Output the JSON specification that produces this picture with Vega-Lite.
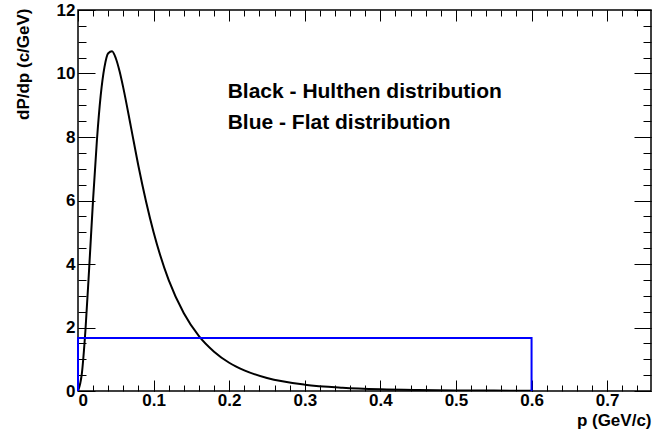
{
  "$schema": "https://vega.github.io/schema/vega-lite/v6.json",
  "width": 573,
  "height": 381,
  "autosize": "none",
  "padding": {"left": 78, "top": 10, "right": 2, "bottom": 40},
  "background": "white",
  "config": {
    "view": {"stroke": "black", "strokeWidth": 1.5},
    "font": "Liberation Sans",
    "axis": {"domain": false, "grid": false, "tickColor": "black", "tickWidth": 1, "labelFont": "Liberation Sans", "labelFontWeight": "bold", "labelFontSize": 17, "labelColor": "black", "titleFont": "Liberation Sans", "titleFontWeight": "bold", "titleFontSize": 17, "titleColor": "black"}
  },
  "datasets": {
    "hul": [
      {"p": 0, "v": 0}, {"p": 0.005, "v": 0.53}, {"p": 0.01, "v": 1.97}, {"p": 0.015, "v": 3.96},
      {"p": 0.02, "v": 6.05}, {"p": 0.025, "v": 7.89}, {"p": 0.03, "v": 9.30}, {"p": 0.035, "v": 10.2},
      {"p": 0.04, "v": 10.64}, {"p": 0.045, "v": 10.70}, {"p": 0.05, "v": 10.48}, {"p": 0.055, "v": 10.07},
      {"p": 0.06, "v": 9.54}, {"p": 0.07, "v": 8.32}, {"p": 0.08, "v": 7.08}, {"p": 0.09, "v": 5.97},
      {"p": 0.10, "v": 5.00}, {"p": 0.12, "v": 3.49}, {"p": 0.14, "v": 2.45}, {"p": 0.16, "v": 1.73},
      {"p": 0.18, "v": 1.24}, {"p": 0.20, "v": 0.89}, {"p": 0.22, "v": 0.65}, {"p": 0.25, "v": 0.41},
      {"p": 0.30, "v": 0.20}, {"p": 0.35, "v": 0.105}, {"p": 0.40, "v": 0.057}, {"p": 0.45, "v": 0.033},
      {"p": 0.50, "v": 0.019}, {"p": 0.55, "v": 0.012}, {"p": 0.60, "v": 0.007}
    ],
    "flat": [
      {"p": 0, "v": 0, "o": 0}, {"p": 0, "v": 1.667, "o": 1}, {"p": 0.6, "v": 1.667, "o": 2}, {"p": 0.6, "v": 0, "o": 3}
    ],
    "labels": [
      {"p": 0.198, "v": 9.23, "t": "Black - Hulthen distribution"},
      {"p": 0.198, "v": 8.25, "t": "Blue - Flat distribution"}
    ]
  },
  "resolve": {"axis": {"x": "independent", "y": "independent"}},
  "layer": [
    {
      "data": {"name": "hul"},
      "mark": {"type": "line", "color": "black", "strokeWidth": 2, "interpolate": "monotone", "clip": true},
      "encoding": {
        "x": {"field": "p", "type": "quantitative", "scale": {"domain": [0, 0.758], "nice": false, "zero": false},
          "axis": {"orient": "bottom", "values": [0, 0.1, 0.2, 0.3, 0.4, 0.5, 0.6, 0.7], "format": ".1~f", "tickSize": -11, "labelPadding": 12,
            "title": "p (GeV/c)", "titleAnchor": "end", "titleAlign": "right", "titleX": 573, "titleY": 34, "titleBaseline": "alphabetic"}},
        "y": {"field": "v", "type": "quantitative", "scale": {"domain": [0, 12], "nice": false, "zero": false},
          "axis": {"orient": "left", "values": [0, 2, 4, 6, 8, 10, 12], "format": "d", "tickSize": -17, "labelPadding": 20,
            "title": "dP/dp (c/GeV)", "titleAngle": -90, "titleAlign": "right", "titleBaseline": "alphabetic", "titleX": -50, "titleY": -2}}
      }
    },
    {
      "data": {"name": "flat"},
      "mark": {"type": "line", "color": "#0000ff", "strokeWidth": 2},
      "encoding": {
        "x": {"field": "p", "type": "quantitative",
          "axis": {"orient": "bottom", "values": [0, 0.02, 0.04, 0.06, 0.08, 0.1, 0.12, 0.14, 0.16, 0.18, 0.2, 0.22, 0.24, 0.26, 0.28, 0.3, 0.32, 0.34, 0.36, 0.38, 0.4, 0.42, 0.44, 0.46, 0.48, 0.5, 0.52, 0.54, 0.56, 0.58, 0.6, 0.62, 0.64, 0.66, 0.68, 0.7, 0.72, 0.74], "tickSize": -6, "labels": false, "title": null}},
        "y": {"field": "v", "type": "quantitative",
          "axis": {"orient": "left", "values": [0, 0.5, 1, 1.5, 2, 2.5, 3, 3.5, 4, 4.5, 5, 5.5, 6, 6.5, 7, 7.5, 8, 8.5, 9, 9.5, 10, 10.5, 11, 11.5, 12], "tickSize": -8, "labels": false, "title": null}},
        "order": {"field": "o", "type": "quantitative"}
      }
    },
    {
      "data": {"name": "labels"},
      "mark": {"type": "text", "align": "left", "baseline": "alphabetic", "font": "Liberation Sans", "fontWeight": "bold", "fontSize": 21, "color": "black"},
      "encoding": {
        "x": {"field": "p", "type": "quantitative",
          "axis": {"orient": "top", "values": [0, 0.1, 0.2, 0.3, 0.4, 0.5, 0.6, 0.7], "tickSize": -11, "labels": false, "title": null}},
        "y": {"field": "v", "type": "quantitative",
          "axis": {"orient": "right", "values": [0, 2, 4, 6, 8, 10, 12], "tickSize": -17, "labels": false, "title": null}},
        "text": {"field": "t"}
      }
    },
    {
      "data": {"name": "flat"},
      "mark": {"type": "line", "opacity": 0},
      "encoding": {
        "x": {"field": "p", "type": "quantitative",
          "axis": {"orient": "top", "values": [0, 0.02, 0.04, 0.06, 0.08, 0.1, 0.12, 0.14, 0.16, 0.18, 0.2, 0.22, 0.24, 0.26, 0.28, 0.3, 0.32, 0.34, 0.36, 0.38, 0.4, 0.42, 0.44, 0.46, 0.48, 0.5, 0.52, 0.54, 0.56, 0.58, 0.6, 0.62, 0.64, 0.66, 0.68, 0.7, 0.72, 0.74], "tickSize": -6, "labels": false, "title": null}},
        "y": {"field": "v", "type": "quantitative",
          "axis": {"orient": "right", "values": [0, 0.5, 1, 1.5, 2, 2.5, 3, 3.5, 4, 4.5, 5, 5.5, 6, 6.5, 7, 7.5, 8, 8.5, 9, 9.5, 10, 10.5, 11, 11.5, 12], "tickSize": -8, "labels": false, "title": null}}
      }
    }
  ]
}
